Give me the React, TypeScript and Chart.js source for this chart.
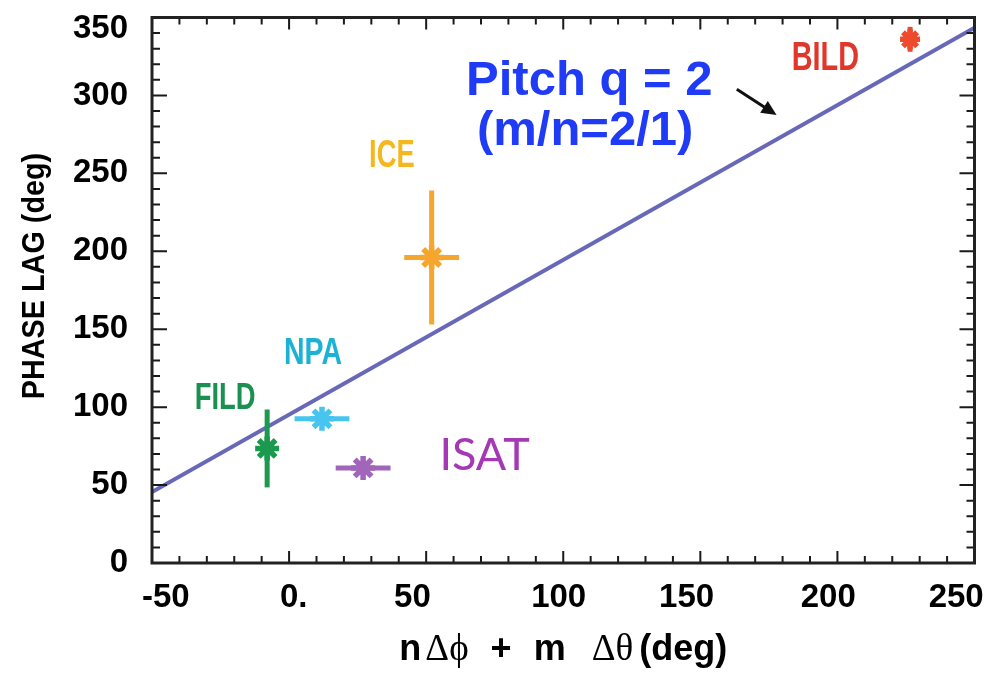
import React, { useEffect, useRef } from 'react';
import { Chart, registerables } from 'chart.js';

Chart.register(...registerables);

// ---------------- data ----------------
const diagnostics = ['FILD', 'NPA', 'ISAT', 'ICE', 'BILD'];
const lagX = [-8, 12, 27, 52, 226.5];
const lagY = [73.5, 92.5, 61, 196, 336];
const errX = [0, 10, 10, 10, 0];
const errY = [25, 0, 0, 43, 8];

const pitchLineX = [-50, 250];
const pitchLineY = [45.5, 343.5];

const xTickValues = [-50, 0, 50, 100, 150, 200, 250];
const xTickLabels = ['-50', '0.', '50', '100', '150', '200', '250'];
const yTickValues = [0, 50, 100, 150, 200, 250, 300, 350];
const yTickLabels = ['0', '50', '100', '150', '200', '250', '300', '350'];

const xTitleParts = ['n', 'Δϕ', '+', 'm', 'Δθ', '(deg)'];
const yTitle = 'PHASE LAG (deg)';
const pitchText = ['Pitch q = 2', '(m/n=2/1)'];

// ---------------- layout of annotations (data units) ----------------
const labelAnchorX = [-23.3, 8.7, 71.3, 37.5, 195.6];
const labelAnchorY = [99, 127.7, 59.4, 254.2, 316.2];
const pitchAnchorX = [109.5, 108];
const pitchAnchorY = [300.2, 268.3];
const arrowFrom = { x: 163.3, y: 304 };
const arrowTo = { x: 177.8, y: 287.4 };

// ---------------- styles ----------------
const markerColors = ['#1b9a4f', '#47c5ef', '#a165b9', '#f6a62d', '#ee4a2d'];
const labelColors = ['#1a9150', '#1bb2d6', '#a538b5', '#f5b71d', '#e1362c'];
const markerRadius = [12, 12, 12, 12, 10];
const labelFontSize = [36, 37, 45, 38, 40];
const labelSquash = [0.76, 0.77, 1, 0.72, 0.72];
const xLabelShiftPx = [15, 3, -16, -3, -12, -9, -20];
const SANS = '"Liberation Sans", Arial, sans-serif';
const SERIF = '"Liberation Serif", "DejaVu Serif", serif';

function fontAvailable(name: string): boolean {
  const c = document.createElement('canvas').getContext('2d');
  if (!c) return false;
  c.font = '40px monospace';
  const w1 = c.measureText('FILD 0123456789').width;
  c.font = `40px "${name}", monospace`;
  return Math.abs(c.measureText('FILD 0123456789').width - w1) > 0.5;
}

const frameTicksPlugin = {
  id: 'frameTicks',
  afterDatasetsDraw(chart: any) {
    const { ctx, chartArea: a, scales } = chart;
    const xs = scales.x, ys = scales.y;
    ctx.save();
    ctx.strokeStyle = '#1a1a1a';
    ctx.lineWidth = 2;
    for (let v = -50; v <= 250; v += 10) {
      const p = xs.getPixelForValue(v);
      const len = v % 50 === 0 ? 12 : 7;
      ctx.beginPath();
      ctx.moveTo(p, a.bottom); ctx.lineTo(p, a.bottom - len);
      ctx.moveTo(p, a.top); ctx.lineTo(p, a.top + len);
      ctx.stroke();
    }
    for (let v = 0; v <= 350; v += 10) {
      const p = ys.getPixelForValue(v);
      const len = v % 50 === 0 ? 15 : 8;
      ctx.beginPath();
      ctx.moveTo(a.left, p); ctx.lineTo(a.left + len, p);
      ctx.moveTo(a.right, p); ctx.lineTo(a.right - len, p);
      ctx.stroke();
    }
    ctx.lineWidth = 3;
    ctx.strokeStyle = '#222';
    ctx.strokeRect(a.left, a.top, a.right - a.left, a.bottom - a.top);
    ctx.restore();
  },
};

const errorBarPlugin = {
  id: 'errorBars',
  beforeDatasetDraw(chart: any, args: any) {
    const i = args.index;
    if (i >= diagnostics.length) return;
    const { ctx, scales } = chart;
    const xs = scales.x, ys = scales.y;
    const cx = xs.getPixelForValue(lagX[i]);
    const cy = ys.getPixelForValue(lagY[i]);
    ctx.save();
    ctx.strokeStyle = markerColors[i];
    ctx.lineWidth = 5;
    ctx.beginPath();
    if (errX[i] > 0) {
      ctx.moveTo(xs.getPixelForValue(lagX[i] - errX[i]), cy);
      ctx.lineTo(xs.getPixelForValue(lagX[i] + errX[i]), cy);
    }
    if (errY[i] > 0) {
      ctx.moveTo(cx, ys.getPixelForValue(lagY[i] - errY[i]));
      ctx.lineTo(cx, ys.getPixelForValue(lagY[i] + errY[i]));
    }
    ctx.stroke();
    // filled core of the asterisk marker
    ctx.fillStyle = markerColors[i];
    ctx.beginPath();
    ctx.arc(cx, cy, markerRadius[i] * 0.55, 0, Math.PI * 2);
    ctx.fill();
    ctx.restore();
  },
};

function squashText(ctx: any, text: string, x: number, y: number, font: string, color: string, sx: number, rot = 0, baseline = 'alphabetic') {
  ctx.save();
  ctx.translate(x, y);
  if (rot) ctx.rotate(rot);
  ctx.scale(sx, 1);
  ctx.font = font;
  ctx.fillStyle = color;
  ctx.textAlign = 'center';
  ctx.textBaseline = baseline;
  ctx.fillText(text, 0, 0);
  ctx.restore();
}

const annotationPlugin = {
  id: 'annotations',
  afterDraw(chart: any) {
    const { ctx, scales, chartArea: a } = chart;
    const xs = scales.x, ys = scales.y;

    diagnostics.forEach((name, i) => {
      const px = xs.getPixelForValue(labelAnchorX[i]);
      const py = ys.getPixelForValue(labelAnchorY[i]);
      const font = name === 'ISAT'
        ? `${labelFontSize[i]}px Lato, "Open Sans", sans-serif`
        : `bold ${labelFontSize[i]}px ${SANS}`;
      squashText(ctx, name, px, py, font, labelColors[i], labelSquash[i]);
    });

    pitchText.forEach((t, i) => {
      squashText(ctx, t, xs.getPixelForValue(pitchAnchorX[i]), ys.getPixelForValue(pitchAnchorY[i]),
        `bold 49px ${SANS}`, '#1f3bf6', 1);
    });

    // arrow
    const x1 = xs.getPixelForValue(arrowFrom.x), y1 = ys.getPixelForValue(arrowFrom.y);
    const x2 = xs.getPixelForValue(arrowTo.x), y2 = ys.getPixelForValue(arrowTo.y);
    const ang = Math.atan2(y2 - y1, x2 - x1);
    const hl = 15, hw = 7;
    ctx.save();
    ctx.strokeStyle = '#111';
    ctx.fillStyle = '#111';
    ctx.lineWidth = 3;
    ctx.beginPath();
    ctx.moveTo(x1, y1);
    ctx.lineTo(x2 - Math.cos(ang) * hl * 0.8, y2 - Math.sin(ang) * hl * 0.8);
    ctx.stroke();
    ctx.beginPath();
    ctx.moveTo(x2, y2);
    ctx.lineTo(x2 - Math.cos(ang) * hl - Math.sin(ang) * hw, y2 - Math.sin(ang) * hl + Math.cos(ang) * hw);
    ctx.lineTo(x2 - Math.cos(ang) * hl + Math.sin(ang) * hw, y2 - Math.sin(ang) * hl - Math.cos(ang) * hw);
    ctx.closePath();
    ctx.fill();
    ctx.restore();

    // y axis title
    squashText(ctx, yTitle, 35, 276, `bold 32px ${SANS}`, '#000', 0.9, -Math.PI / 2, 'middle');

    // x axis title with mixed fonts
    const fonts = [`bold 36px ${SANS}`, `37px ${SERIF}`, `bold 36px ${SANS}`, `bold 36px ${SANS}`, `37px ${SERIF}`, `bold 36px ${SANS}`];
    const gaps = [4, 22, 22, 26, 6, 0];
    ctx.save();
    let total = 0;
    const widths = xTitleParts.map((t, i) => {
      ctx.font = fonts[i];
      const w = ctx.measureText(t).width;
      total += w + gaps[i];
      return w;
    });
    let x = (a.left + a.right) / 2 - total / 2;
    ctx.fillStyle = '#000';
    ctx.textAlign = 'left';
    ctx.textBaseline = 'alphabetic';
    xTitleParts.forEach((t, i) => {
      ctx.font = fonts[i];
      ctx.fillText(t, x, 660);
      x += widths[i] + gaps[i];
    });
    ctx.restore();
  },
};

export default function App() {
  const ref = useRef<HTMLCanvasElement>(null);

  useEffect(() => {
    const canvas = ref.current;
    if (!canvas) return;

    const narrow = fontAvailable('Liberation Sans Narrow');
    const tickFamily = narrow ? '"Liberation Sans Narrow", "Liberation Sans", Arial, sans-serif' : SANS;
    const tickSize = narrow ? 36 : 33;

    const mctx = document.createElement('canvas').getContext('2d')!;
    mctx.font = `bold ${tickSize}px ${tickFamily}`;
    const spaceW = mctx.measureText(' ').width || 9;

    const datasets: any[] = diagnostics.map((name, i) => ({
      type: 'scatter',
      label: name,
      data: [{ x: lagX[i], y: lagY[i] }],
      pointStyle: 'star',
      pointRadius: markerRadius[i],
      pointBorderWidth: 5.5,
      borderColor: markerColors[i],
      backgroundColor: markerColors[i],
      showLine: false,
    }));
    datasets.push({
      type: 'line',
      label: 'Pitch q = 2',
      data: pitchLineX.map((x, i) => ({ x, y: pitchLineY[i] })),
      borderColor: '#6768b8',
      borderWidth: 4,
      pointRadius: 0,
      fill: false,
      tension: 0,
    });

    const chart = new Chart(canvas, {
      type: 'scatter',
      data: { datasets },
      options: {
        animation: false,
        responsive: false,
        devicePixelRatio: 1,
        events: [],
        layout: { padding: { left: 0, top: 15, right: 15, bottom: 0 } },
        plugins: { legend: { display: false }, tooltip: { enabled: false } },
        scales: {
          x: {
            type: 'linear',
            min: -50,
            max: 250,
            afterBuildTicks: (s: any) => { s.ticks = xTickValues.map((v) => ({ value: v })); },
            ticks: {
              autoSkip: false,
              maxRotation: 0,
              padding: 15,
              color: '#000',
              font: { family: tickFamily, size: tickSize, weight: 'bold' },
              callback: (v: any) => {
                const idx = xTickValues.indexOf(Number(v));
                if (idx < 0) return '';
                const shift = xLabelShiftPx[idx];
                const n = Math.round((2 * Math.abs(shift)) / spaceW);
                const pad = ' '.repeat(n);
                return shift > 0 ? pad + xTickLabels[idx] : xTickLabels[idx] + pad;
              },
            },
            grid: { display: false, drawTicks: false },
            border: { display: false },
            afterFit: (s: any) => {
              s.height = 111;
              s.paddingLeft = 0; s.paddingRight = 0; s.paddingTop = 0; s.paddingBottom = 0;
            },
          },
          y: {
            type: 'linear',
            min: 0,
            max: 350,
            afterBuildTicks: (s: any) => { s.ticks = yTickValues.map((v) => ({ value: v })); },
            ticks: {
              autoSkip: false,
              padding: 24,
              color: '#000',
              font: (c: any) => ({
                family: tickFamily, size: tickSize, weight: 'bold',
                lineHeight: c.tick && c.tick.value === 350 ? 22 / tickSize : 1.2,
              }),
              callback: (v: any) => {
                const lab = yTickLabels[yTickValues.indexOf(Number(v))] ?? '';
                return Number(v) === 350 ? ['', lab] : lab;
              },
            },
            grid: { display: false, drawTicks: false },
            border: { display: false },
            afterFit: (s: any) => {
              s.width = 152;
              s.paddingLeft = 0; s.paddingRight = 0; s.paddingTop = 0; s.paddingBottom = 0;
            },
          },
        },
      },
      plugins: [errorBarPlugin, frameTicksPlugin, annotationPlugin],
    } as any);

    return () => chart.destroy();
  }, []);

  return (
    <div style={{ position: 'fixed', left: 0, top: 0, width: 992, height: 674, background: '#fff' }}>
      <canvas ref={ref} width={992} height={674} style={{ display: 'block', width: 992, height: 674 }} />
    </div>
  );
}
